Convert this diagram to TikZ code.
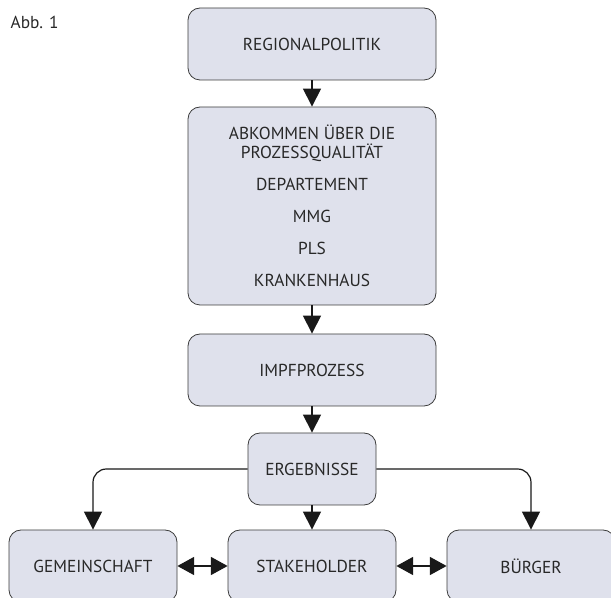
\documentclass[tikz,border=0pt]{standalone}
\usepackage{fontspec}
\setmainfont{PT Sans}
\usepackage{tikz}
\usetikzlibrary{arrows.meta, positioning}
\usepackage{xcolor}
\definecolor{boxfill}{RGB}{223,225,236}
\definecolor{boxline}{RGB}{60,60,60}
\definecolor{arrowdark}{RGB}{25,25,25}
\definecolor{textdark}{RGB}{40,40,40}

\begin{document}
\begin{tikzpicture}[x=0.75pt, y=-0.75pt, every node/.style={font=\fontsize{13}{14.2}\selectfont, text=textdark},
  stage/.style={draw=boxline, fill=boxfill, rounded corners=9pt, line width=0.6pt, minimum width=186pt, minimum height=54pt, align=center},
  party/.style={stage, minimum width=126pt},
  flow/.style={draw=arrowdark, line width=0.9pt, -{Triangle[width=13.5pt, length=13.5pt]}},
  both/.style={draw=arrowdark, line width=0.9pt, {Triangle[width=13.5pt, length=12.5pt]}-{Triangle[width=13.5pt, length=12.5pt]}}]
  \clip (0,0) rectangle (611,598);

  \node[anchor=west] (fig) at (6,22) {Abb. 1};

  \node[stage] (region) at (312,44) {REGIONALPOLITIK};
  \node[stage, minimum height=148.5pt] (agree) at (312,206) {ABKOMMEN ÜBER DIE\\PROZESSQUALITÄT\\[9.8pt]DEPARTEMENT\\[9.8pt]MMG\\[9.8pt]PLS\\[9.8pt]KRANKENHAUS};
  \node[stage] (vacc) at (312,370) {IMPFPROZESS};
  \node[stage, minimum width=96pt] (result) at (312,469) {ERGEBNISSE};

  \node[party] (community) at (93,566) {GEMEINSCHAFT};
  \node[party] (stake) at (312,566) {STAKEHOLDER};
  \node[party] (citizen) at (531,566) {BÜRGER};

  \draw[flow] (region) -- (agree);
  \draw[flow] (agree) -- (vacc);
  \draw[flow] (vacc) -- (result);
  \draw[flow] (result) -- (stake);
  \draw[flow, rounded corners=10pt] (result.west) -| (community.north);
  \draw[flow, rounded corners=10pt] (result.east) -| (citizen.north);

  \draw[both] (community) -- (stake);
  \draw[both] (stake) -- (citizen);
\end{tikzpicture}
\end{document}
